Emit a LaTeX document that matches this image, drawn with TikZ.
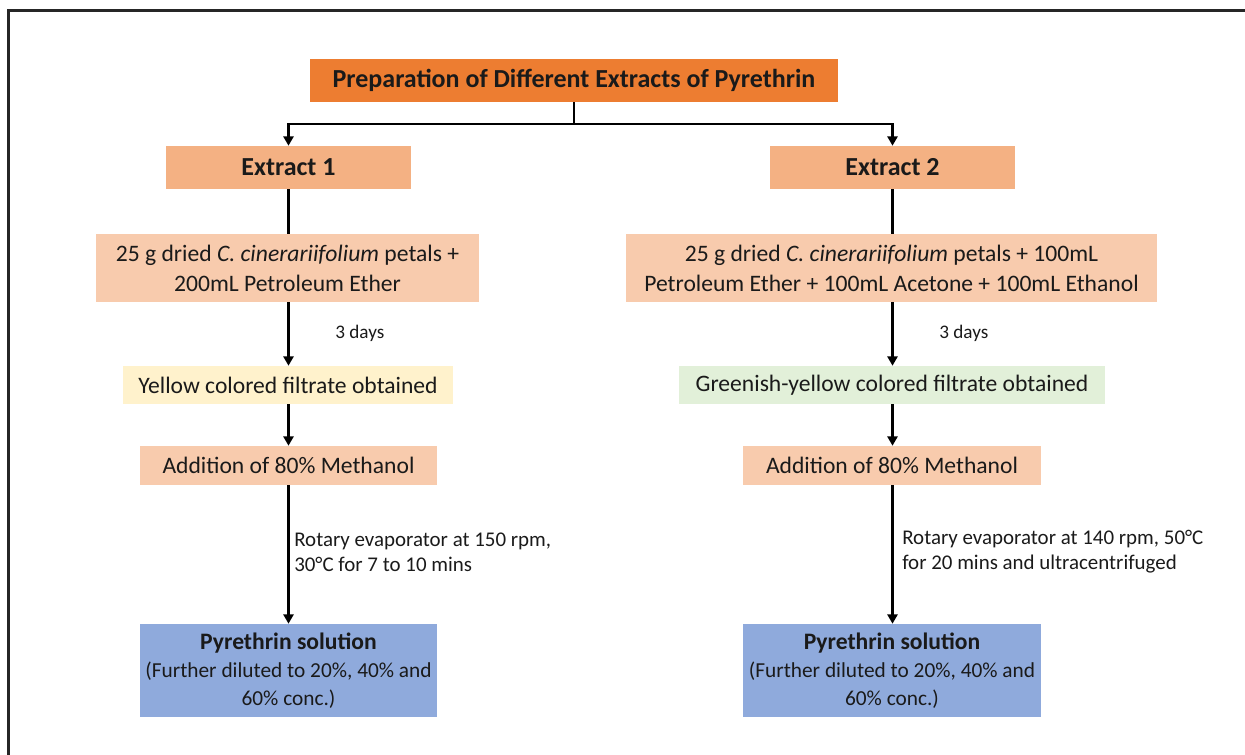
\documentclass[tikz,border=0pt]{standalone}
\usepackage{fontspec}
\setmainfont{Carlito}
\usetikzlibrary{positioning,arrows.meta}

\definecolor{titleorange}{HTML}{ED7D31}
\definecolor{extorange}{HTML}{F4B183}
\definecolor{paleorange}{HTML}{F8CBAD}
\definecolor{paleyellow}{HTML}{FFF2CC}
\definecolor{palegreen}{HTML}{E2F0D9}
\definecolor{solblue}{HTML}{8FAADC}
\definecolor{txt}{HTML}{1A1A1A}

\newcommand{\soltitle}{{\fontsize{17.7}{20.6}\selectfont\bfseries Pyrethrin solution}}

\begin{document}
\begin{tikzpicture}[
	x=0.75pt, y=-0.75pt,
	box/.style={inner sep=0pt, align=center, text=txt,
		font=\fontsize{17.7}{22.5}\selectfont},
	head/.style={box, font=\fontsize{19.5}{22}\selectfont\bfseries},
	sol/.style={box, fill=solblue, minimum width=222.75pt, minimum height=69.75pt,
		font=\fontsize{16}{20.6}\selectfont},
	lbl/.style={inner sep=0pt, align=left, text=txt,
		font=\fontsize{14.4}{18.75}\selectfont},
	conn/.style={line width=1.9pt, draw=black},
	arrow/.style={conn, -{Triangle[width=7.5pt,length=7pt]}}
	]
	\clip (0,0) rectangle (1245,754);
	% frame
	\draw[line width=1.6pt, draw=black!85] (8.5,10.5) rectangle (1300,800);
	% title
	\node[head, fill=titleorange, minimum width=396pt, minimum height=32.25pt]
	(title) at (574,80.5) {Preparation of Different Extracts of Pyrethrin};
	\coordinate (split) at (574,124);
	% extracts
	\node[head, fill=extorange, minimum width=183.75pt, minimum height=32.25pt]
	(ext1) at (288.5,167.5) {Extract 1};
	\node[head, fill=extorange, minimum width=183.75pt, minimum height=32.25pt]
	(ext2) at (892.5,167.5) {Extract 2};
	% petals
	\node[box, fill=paleorange, minimum width=287.25pt, minimum height=51pt]
	(mix1) at (287.5,268) {25 g dried \textit{C. cinerariifolium} petals +\\200mL Petroleum Ether};
	\node[box, fill=paleorange, minimum width=398.25pt, minimum height=51pt]
	(mix2) at (891.5,268) {25 g dried \textit{C. cinerariifolium} petals + 100mL\\Petroleum Ether + 100mL Acetone + 100mL Ethanol};
	% filtrates
	\node[box, fill=paleyellow, minimum width=247.5pt, minimum height=28.5pt]
	(filt1) at (288,385) {Yellow colored filtrate obtained};
	\node[box, fill=palegreen, minimum width=319.5pt, minimum height=28.5pt]
	(filt2) at (892,385) {Greenish-yellow colored filtrate obtained};
	% methanol
	\node[box, fill=paleorange, minimum width=222.75pt, minimum height=29.25pt]
	(meth1) at (288.5,465.5) {Addition of 80\% Methanol};
	\node[box, fill=paleorange, minimum width=223.5pt, minimum height=29.25pt]
	(meth2) at (892,465.5) {Addition of 80\% Methanol};
	% solutions
	\node[sol] (sol1) at (288.5,670.5)
	{\soltitle\\[1pt](Further diluted to 20\%, 40\% and\\60\% conc.)};
	\node[sol, minimum width=223.5pt] (sol2) at (892,670.5)
	{\soltitle\\[1pt](Further diluted to 20\%, 40\% and\\60\% conc.)};
	% labels
	\node[lbl, anchor=west] (days1) at (335,333) {3 days};
	\node[lbl, anchor=west] (days2) at (939,333) {3 days};
	\node[lbl, anchor=west, font=\fontsize{15.7}{18.75}\selectfont]
	(rot1) at (294,552) {Rotary evaporator at 150 rpm,\\30°C for 7 to 10 mins};
	\node[lbl, anchor=west, font=\fontsize{15.7}{18.75}\selectfont]
	(rot2) at (902,552) {Rotary evaporator at 140 rpm, 50°C\\for 20 mins and ultracentrifuged};
	% connectors
	\draw[conn] (title.south) -- (split);
	\draw[arrow] (split) -| (ext1.north);
	\draw[arrow] (split) -| (ext2.north);
	\draw[conn] (ext1.south) -- (ext1.south |- mix1.north);
	\draw[conn] (ext2.south) -- (ext2.south |- mix2.north);
	\draw[arrow] (ext1.south |- mix1.south) -- (ext1.south |- filt1.north);
	\draw[arrow] (ext2.south |- mix2.south) -- (ext2.south |- filt2.north);
	\draw[arrow] (ext1.south |- filt1.south) -- (ext1.south |- meth1.north);
	\draw[arrow] (ext2.south |- filt2.south) -- (ext2.south |- meth2.north);
	\draw[arrow] (ext1.south |- meth1.south) -- (ext1.south |- sol1.north);
	\draw[arrow] (ext2.south |- meth2.south) -- (ext2.south |- sol2.north);
\end{tikzpicture}
\end{document}
